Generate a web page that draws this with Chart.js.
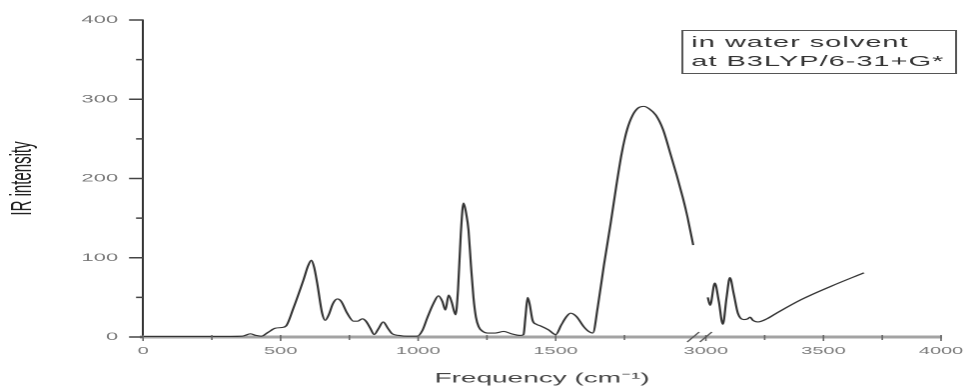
<!DOCTYPE html>
<html>
<head>
<meta charset="utf-8">
<script src="https://cdn.jsdelivr.net/npm/chart.js@4.4.0/dist/chart.umd.min.js"></script>
<style>
  html, body { margin: 0; padding: 0; background: #fff; overflow: hidden; }
  /* the figure is drawn at half width and stretched, like the original plot */
  #wrap { position: absolute; left: 0; top: 0; width: 484px; height: 389px; transform: scaleX(1.998); transform-origin: 0 0; }
</style>
</head>
<body>
<div id="wrap"><canvas id="ir-chart"></canvas></div>
<script>
// spectrum below the axis break (frequency in cm-1, IR intensity)
const freqLow = [0, 100, 200, 300, 360, 390, 410, 430, 455, 480, 505, 520, 546, 583, 600, 612, 622, 633, 651, 662,
  675, 690, 706, 720, 742, 765, 780, 797, 810, 826, 840, 855, 873, 890, 906, 930, 960, 997, 1015, 1034,
  1055, 1074, 1088, 1099, 1111, 1122, 1136, 1145, 1155, 1165, 1175, 1183, 1192, 1201, 1210, 1220, 1235, 1252, 1280, 1311,
  1340, 1372, 1383, 1390, 1398, 1405, 1416, 1430, 1445, 1474, 1500, 1520, 1540, 1554, 1575, 1602, 1620, 1635, 1653, 1675,
  1700, 1720, 1740, 1760, 1780, 1800, 1820, 1840, 1864, 1890, 1918, 1940, 1962, 1980, 2000];
const irLow = [0.5, 0.5, 0.5, 0.5, 1, 4, 2, 1, 6, 11, 12, 14, 36, 72, 90, 97, 88, 68, 30, 21,
  28, 42, 48, 45, 30, 20, 20, 23, 20, 11, 3, 10, 19, 11, 4, 2, 1, 1, 8, 25,
  42, 52, 45, 34, 53, 44, 28, 60, 130, 169, 155, 135, 90, 50, 25, 13, 7, 5, 5, 7,
  4, 2, 3, 25, 50, 42, 21, 16, 14, 9, 3, 15, 26, 30, 26, 13, 7, 5, 38, 90,
  144, 190, 232, 262, 280, 289, 291, 288, 280, 262, 230, 204, 176, 150, 116];

// spectrum after the break
const freqHigh = [3008, 3018, 3038, 3055, 3072, 3088, 3102, 3118, 3136, 3160, 3178, 3188, 3200, 3221, 3260, 3300, 3404, 3532, 3672];
const irHigh = [50, 40, 68, 45, 16, 50, 75, 55, 30, 22, 23, 25, 21, 19, 23, 30, 47, 64, 81];

const xTickFreqs = [0, 250, 500, 750, 1000, 1250, 1500, 1750, 3000, 3250, 3500, 3750, 4000];
const xTickLabels = ['0', '', '500', '', '1000', '', '1500', '', '3000', '', '3500', '', '4000'];
const yTickValues = [0, 50, 100, 150, 200, 250, 300, 350, 400];
const yTickLabels = ['0', '', '100', '', '200', '', '300', '', '400'];

const legendLines = ['in water solvent', 'at B3LYP/6-31+G*'];

// broken x axis: 0-2000 at full scale, short gap, then 3000-4000 squeezed
const BREAK_LO = 2000, BREAK_HI = 3000, BREAK_GAP = 46, HIGH_SCALE = 0.855;
const toAxis = f => f <= BREAK_LO ? f : BREAK_LO + BREAK_GAP + (f - BREAK_HI) * HIGH_SCALE;

const FONT = "'Liberation Sans', Arial, sans-serif";

const irDecor = {
  id: 'irDecor',
  afterDraw(chart) {
    const ctx = chart.ctx;
    const area = chart.chartArea;
    const xs = chart.scales.x, ys = chart.scales.y;
    ctx.save();

    // y tick marks, long on the hundreds
    ctx.strokeStyle = '#444';
    ctx.lineWidth = 1.5;
    yTickValues.forEach((v, i) => {
      const py = ys.getPixelForValue(v);
      const len = yTickLabels[i] ? 7 : 3.5;
      ctx.beginPath();
      ctx.moveTo(area.left - len, py);
      ctx.lineTo(area.left, py);
      ctx.stroke();
    });

    // x tick marks
    ctx.strokeStyle = '#666';
    ctx.lineWidth = 0.8;
    xTickFreqs.forEach((f, i) => {
      const px = xs.getPixelForValue(toAxis(f));
      ctx.beginPath();
      ctx.moveTo(px, area.bottom - 2);
      ctx.lineTo(px, area.bottom + (xTickLabels[i] ? 4 : 3));
      ctx.stroke();
    });

    // axis break marks
    ctx.strokeStyle = '#555';
    ctx.lineWidth = 0.9;
    [BREAK_LO, BREAK_HI].forEach(f => {
      const px = xs.getPixelForValue(toAxis(f));
      ctx.beginPath();
      ctx.moveTo(px - 3, area.bottom + 5);
      ctx.lineTo(px + 3, area.bottom - 5);
      ctx.stroke();
    });

    // legend box
    ctx.strokeStyle = '#555';
    ctx.lineWidth = 1;
    ctx.strokeRect(341.5, 30.5, 137, 43);
    ctx.fillStyle = '#333';
    ctx.font = '14.5px ' + FONT;
    ctx.letterSpacing = '0.5px';
    ctx.textBaseline = 'middle';
    ctx.textAlign = 'left';
    ctx.fillText(legendLines[0], 346, 43);
    ctx.fillText(legendLines[1], 346, 62);
    ctx.restore();
  }
};

const lineStyle = {
  borderColor: '#333',
  borderWidth: 1.1,
  pointRadius: 0,
  fill: false,
  cubicInterpolationMode: 'monotone'
};

new Chart(document.getElementById('ir-chart').getContext('2d'), {
  type: 'line',
  data: {
    datasets: [
      { label: 'low', data: freqLow.map((f, i) => ({ x: toAxis(f), y: irLow[i] })), ...lineStyle },
      { label: 'high', data: freqHigh.map((f, i) => ({ x: toAxis(f), y: irHigh[i] })), ...lineStyle }
    ]
  },
  options: {
    responsive: true,
    maintainAspectRatio: false,
    animation: false,
    devicePixelRatio: 2,
    layout: { padding: { left: 0, right: 13, top: 20, bottom: 0 } },
    plugins: {
      legend: { display: false },
      tooltip: { enabled: false }
    },
    scales: {
      x: {
        type: 'linear',
        min: 0,
        max: toAxis(4000),
        afterBuildTicks: s => { s.ticks = xTickFreqs.map(f => ({ value: toAxis(f) })); },
        afterFit: s => { s.height = 52; s.paddingLeft = 0; s.paddingRight = 0; },
        grid: { drawOnChartArea: false, drawTicks: false },
        border: { color: '#a3a3a3', width: 3 },
        ticks: {
          autoSkip: false,
          maxRotation: 0,
          padding: 8,
          color: '#7a7a7a',
          font: { family: FONT, size: 10 },
          callback: (v, i) => xTickLabels[i]
        },
        title: {
          display: true,
          text: 'Frequency (cm⁻¹)',
          color: '#444',
          font: { family: FONT, size: 14 },
          padding: { top: 0, bottom: 2 }
        }
      },
      y: {
        min: 0,
        max: 400,
        afterBuildTicks: s => { s.ticks = yTickValues.map(v => ({ value: v })); },
        afterFit: s => { s.width = 71.6; },
        grid: { drawOnChartArea: false, drawTicks: false },
        border: { color: '#333', width: 1 },
        ticks: {
          padding: 12.5,
          color: '#7a7a7a',
          font: { family: FONT, size: 11 },
          callback: (v, i) => yTickLabels[i]
        },
        title: {
          display: true,
          text: 'IR intensity',
          color: '#222',
          font: { family: FONT, size: 15 },
          padding: { top: 2.5, bottom: 0 }
        }
      }
    }
  },
  plugins: [irDecor]
});
</script>
</body>
</html>
